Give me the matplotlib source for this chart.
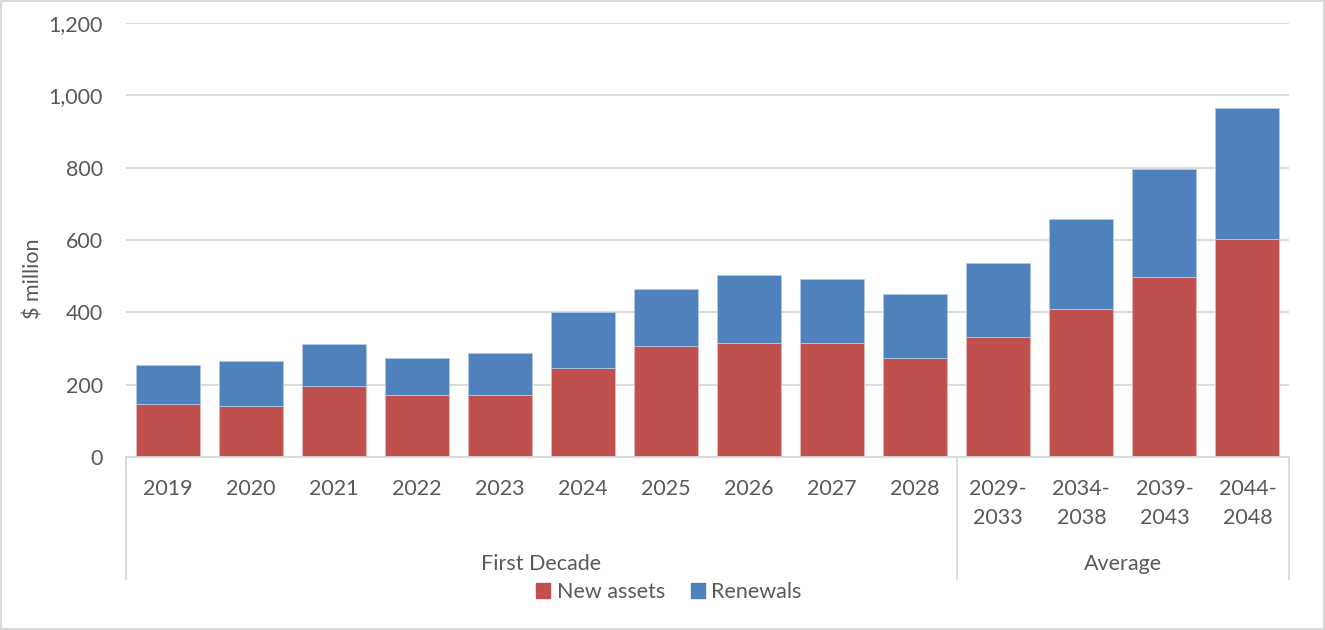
import matplotlib
matplotlib.use("Agg")
import matplotlib.pyplot as plt
from matplotlib.patches import Rectangle, Patch
from matplotlib.lines import Line2D
from matplotlib.ticker import FuncFormatter
import matplotlib.transforms as mtransforms

# Capital expenditure by period, $ million
periods = ["2019", "2020", "2021", "2022", "2023", "2024", "2025", "2026",
           "2027", "2028", "2029-\n2033", "2034-\n2038", "2039-\n2043", "2044-\n2048"]
new_assets = [147, 140, 197, 171, 172, 246, 308, 316, 314, 273, 331, 410, 498, 603]
renewals = [108, 125, 115, 102, 116, 155, 156, 187, 177, 179, 205, 249, 298, 361]
groups = ["First Decade", "Average"]
group_sizes = [10, 4]
y_ticks = [0, 200, 400, 600, 800, 1000, 1200]

RED = "#C0504D"
BLUE = "#4F81BD"
TEXT = "#595959"
GRID = "#D9D9D9"
FS = 15.5

plt.rcParams["font.family"] = ["Lato", "DejaVu Sans"]

fig = plt.figure(figsize=(13.25, 6.3), dpi=100)
ax = fig.add_axes([126 / 1325, 1 - 457 / 630, (1289 - 126) / 1325, (457 - 23) / 630])

x = list(range(len(periods)))
ax.bar(x, new_assets, width=0.77, color=RED, edgecolor="#E6B8B7",
       linewidth=0.6, zorder=3, label="New assets")
ax.bar(x, renewals, width=0.77, bottom=new_assets, color=BLUE,
       edgecolor="#B4C7E7", linewidth=0.6, zorder=3, label="Renewals")

ax.set_xlim(-0.5, len(periods) - 0.5)
ax.set_ylim(0, 1200)
ax.set_yticks(y_ticks)
ax.yaxis.set_major_formatter(FuncFormatter(lambda v, p: f"{int(v):,}"))
ax.tick_params(axis="y", length=0, pad=16.5, labelsize=FS, labelcolor=TEXT)
ax.set_xticks([])
ax.grid(axis="y", color=GRID, linewidth=1.3, zorder=0)
for s in ["top", "right", "left"]:
    ax.spines[s].set_visible(False)
ax.spines["bottom"].set_color(GRID)
ax.spines["bottom"].set_linewidth(1.3)
ax.spines["bottom"].set_zorder(4)

ax.set_ylabel("$ million", fontsize=FS, color=TEXT)
ax.yaxis.set_label_coords((44 - 126) / 1163, (457 - 279) / 434)

# Multi-level category axis below the plot
trans = mtransforms.blended_transform_factory(ax.transData, ax.transAxes)
h = 434.0
line_y = [-(489 - 457) / h, -(518 - 457) / h]
for xi, lab in zip(x, periods):
    for k, part in enumerate(lab.split("\n")):
        ax.text(xi, line_y[k], part, transform=trans, ha="center", va="center",
                fontsize=FS, color=TEXT)

sep_bottom = -(579 - 457) / h
group_y = -(564 - 457) / h
start = 0
bounds = [-0.5]
for g, n in zip(groups, group_sizes):
    ax.text(start + (n - 1) / 2, group_y, g, transform=trans, ha="center",
            va="center", fontsize=FS, color=TEXT)
    start += n
    bounds.append(start - 0.5)
for bx in bounds:
    ax.add_line(Line2D([bx, bx], [0, sep_bottom], transform=trans, color=GRID,
                       linewidth=1.3, clip_on=False))

fig.legend(handles=[Patch(color=RED, label="New assets"),
                    Patch(color=BLUE, label="Renewals")],
           loc="center", bbox_to_anchor=(669 / 1325, 1 - 592 / 630), ncol=2,
           frameon=False, fontsize=FS, labelcolor=TEXT, handlelength=0.65,
           handleheight=0.65, handletextpad=0.3, columnspacing=1.2,
           borderaxespad=0, borderpad=0)

fig.patches.append(Rectangle((0.001, 0.002), 0.998, 0.996, transform=fig.transFigure,
                             fill=False, edgecolor=GRID, linewidth=1.5))

fig.savefig("out.png", dpi=100)
